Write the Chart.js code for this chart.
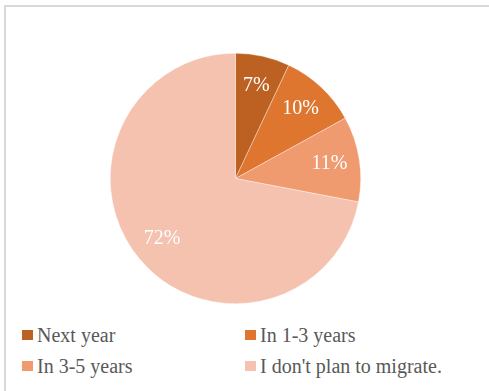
<!DOCTYPE html>
<html>
<head>
<meta charset="utf-8">
<script src="https://cdn.jsdelivr.net/npm/chart.js@4.4.0/dist/chart.umd.min.js"></script>
<style>
  body { margin: 0; font-family: "Liberation Serif", serif; font-size: 20px; }
  #frame { position: absolute; left: 4px; top: 5px; width: 520px; height: 420px; border: 2px solid #D9D9D9; }
  #pieWrap { position: absolute; left: 110px; top: 53px; width: 251px; height: 251px; }
  .legItem { position: absolute; font-family: "Liberation Serif", serif; font-size: 20px; line-height: 20px; color: #595959; }
  .legItem .box { position: absolute; left: 0; top: 5px; width: 11px; height: 10px; }
  .legItem .txt { margin-left: 15px; }
</style>
</head>
<body>
<div id="frame"></div>
<div id="pieWrap"><canvas id="pie"></canvas></div>
<div id="legend"></div>
<script>
const categories = ['Next year', 'In 1-3 years', 'In 3-5 years', "I don't plan to migrate."];
const shares = [7, 10, 11, 72];
const sliceColors = ['#BC6122', '#DE7630', '#F09A70', '#F5C2AF'];

// percentage labels drawn inside each slice
const sliceLabels = {
    id: 'sliceLabels',
    afterDatasetsDraw(chart) {
        const ctx = chart.ctx;
        const meta = chart.getDatasetMeta(0);
        ctx.save();
        ctx.font = '20px "Liberation Serif"';
        ctx.fillStyle = '#ffffff';
        ctx.textAlign = 'center';
        ctx.textBaseline = 'middle';
        meta.data.forEach((arc, i) => {
            const p = arc.getProps(['x', 'y', 'startAngle', 'endAngle', 'outerRadius'], true);
            const mid = (p.startAngle + p.endAngle) / 2;
            const r = p.outerRadius * 0.76;
            ctx.fillText(shares[i] + '%', p.x + Math.cos(mid) * r, p.y + Math.sin(mid) * r);
        });
        ctx.restore();
    }
};

new Chart(document.getElementById('pie'), {
    type: 'pie',
    data: {
        labels: categories,
        datasets: [{
            data: shares,
            backgroundColor: sliceColors,
            borderColor: 'rgba(255,255,255,0.6)',
            borderWidth: 0.6
        }]
    },
    options: {
        responsive: true,
        maintainAspectRatio: false,
        animation: false,
        layout: { padding: 0 },
        plugins: { legend: { display: false }, tooltip: { enabled: false } }
    },
    plugins: [sliceLabels]
});

// legend, two columns
const legCols = [22, 245];
const legRows = [324.5, 355.5];
const legend = document.getElementById('legend');
categories.forEach((name, i) => {
    const item = document.createElement('div');
    item.className = 'legItem';
    item.style.left = legCols[i % 2] + 'px';
    item.style.top = legRows[Math.floor(i / 2)] + 'px';
    const box = document.createElement('span');
    box.className = 'box';
    box.style.background = sliceColors[i];
    const txt = document.createElement('span');
    txt.className = 'txt';
    txt.textContent = name;
    item.appendChild(box);
    item.appendChild(txt);
    legend.appendChild(item);
});
</script>
</body>
</html>
